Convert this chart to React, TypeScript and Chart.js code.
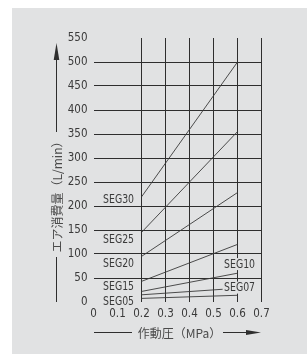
import React, { useEffect, useRef } from 'react';
import { Chart, registerables } from 'chart.js';

Chart.register(...registerables);

// ---- data ----
const seriesNames = ['SEG30', 'SEG25', 'SEG20', 'SEG15', 'SEG10', 'SEG07', 'SEG05'];
const startPressure = [0.2, 0.2, 0.2, 0.2, 0.2, 0.2, 0.2];
const endPressure = [0.6, 0.6, 0.6, 0.6, 0.6, 0.538, 0.6];
const startFlow = [219, 145, 95, 43, 22, 15, 7.5];
const endFlow = [500, 355, 228, 120, 60, 26.5, 14];
const xTicks = [0, 0.1, 0.2, 0.3, 0.4, 0.5, 0.6, 0.7];
const yTicks = [0, 50, 100, 150, 200, 250, 300, 350, 400, 450, 500, 550];
// series label anchors (data units)
const labelPressure = [0.169, 0.169, 0.169, 0.169, 0.544, 0.544, 0.169];
const labelFlow = [215, 131, 81, 33, 79, 30, 2];
const labelSide = ['left', 'left', 'left', 'left', 'right', 'right', 'left'];
const xTitle = '作動圧（MPa）';
const yTitle = 'エア消費量（L/min）';

// ---- styles ----
const PANEL = '#e1e2e3';
const GRID = '#2e2e2e';
const LINE = '#3a3a3a';
const TEXT = '#3a3a3a';
const NARROW = "'Liberation Sans Narrow', 'DejaVu Sans Condensed', sans-serif";
const CJK = "'Noto Sans CJK JP', sans-serif";

const bgPlugin = {
  id: 'panelBg',
  beforeDraw(chart: any) {
    const { ctx, width, height } = chart;
    ctx.save();
    ctx.fillStyle = '#ffffff';
    ctx.fillRect(0, 0, width, height);
    ctx.fillStyle = PANEL;
    ctx.fillRect(12, 8, width - 12, height - 8);
    ctx.restore();
  },
};

const SX = 0.8;
const labelPlugin = {
  id: 'segLabels',
  afterDatasetsDraw(chart: any) {
    const { ctx } = chart;
    const xs = chart.scales.x;
    const ys = chart.scales.y;
    ctx.save();
    ctx.font = `13px ${NARROW}`;
    ctx.textBaseline = 'middle';
    ctx.textAlign = 'left';
    seriesNames.forEach((name, i) => {
      const px = xs.getPixelForValue(labelPressure[i]);
      const py = ys.getPixelForValue(labelFlow[i]);
      const w = ctx.measureText(name).width * SX;
      const left = labelSide[i] === 'left' ? px - w : px;
      ctx.fillStyle = PANEL;
      ctx.fillRect(left - 1, py - 6, w + 2, 12);
      ctx.fillStyle = TEXT;
      ctx.save();
      ctx.translate(left, py + 0.5);
      ctx.scale(SX, 1);
      ctx.fillText(name, 0, 0);
      ctx.restore();
    });
    ctx.restore();
  },
};

const titlePlugin = {
  id: 'axisTitles',
  afterDraw(chart: any) {
    const { ctx } = chart;
    ctx.save();
    ctx.strokeStyle = GRID;
    ctx.fillStyle = GRID;
    ctx.lineWidth = 1;
    // y title
    const yx = 56.5;
    ctx.beginPath();
    ctx.moveTo(yx, 56);
    ctx.lineTo(yx, 132);
    ctx.moveTo(yx, 257);
    ctx.lineTo(yx, 302);
    ctx.stroke();
    ctx.beginPath();
    ctx.moveTo(yx, 43);
    ctx.lineTo(yx - 2.8, 60);
    ctx.lineTo(yx + 2.8, 60);
    ctx.closePath();
    ctx.fill();
    // x title
    const xy = 332.5;
    ctx.beginPath();
    ctx.moveTo(94, xy);
    ctx.lineTo(132, xy);
    ctx.moveTo(223, xy);
    ctx.lineTo(250, xy);
    ctx.stroke();
    ctx.beginPath();
    ctx.moveTo(261, xy);
    ctx.lineTo(246, xy - 2.5);
    ctx.lineTo(246, xy + 2.5);
    ctx.closePath();
    ctx.fill();

    ctx.fillStyle = '#4a4a4a';
    ctx.font = `12px ${CJK}`;
    ctx.textAlign = 'center';
    ctx.textBaseline = 'middle';
    ctx.fillText(xTitle, 179.5, 333);
    ctx.translate(57, 194);
    ctx.rotate(-Math.PI / 2);
    ctx.fillText(yTitle, 0, 0);
    ctx.restore();
  },
};

export default function App() {
  const ref = useRef<HTMLCanvasElement>(null);
  useEffect(() => {
    const datasets = seriesNames.map((name, i) => ({
      label: name,
      data: [
        { x: startPressure[i], y: startFlow[i] },
        { x: endPressure[i], y: endFlow[i] },
      ],
      borderColor: LINE,
      borderWidth: 0.9,
      pointRadius: 0,
      fill: false,
      tension: 0,
    }));
    const tickFont = { family: NARROW, size: 11.5 };
    const chart = new Chart(ref.current as HTMLCanvasElement, {
      type: 'line',
      data: { datasets },
      options: {
        animation: false,
        responsive: false,
        events: [],
        layout: { padding: { left: 63.5, top: 38, right: 45.5, bottom: 32 } },
        plugins: { legend: { display: false }, tooltip: { enabled: false } },
        scales: {
          x: {
            type: 'linear',
            min: 0,
            max: 0.7,
            afterBuildTicks: (s: any) => {
              s.ticks = xTicks.map((v) => ({ value: v }));
            },
            afterFit: (s: any) => {
              s.height = 20;
            },
            ticks: {
              autoSkip: false,
              maxRotation: 0,
              padding: 5,
              color: TEXT,
              font: tickFont,
              callback: (v: any) => (Number(v) === 0 ? '0' : Number(v).toFixed(1)),
            },
            grid: {
              drawTicks: false,
              lineWidth: 1,
              color: (c: any) => (c.tick && c.tick.value > 0.15 ? GRID : 'rgba(0,0,0,0)'),
            },
            border: { display: false },
          },
          y: {
            type: 'linear',
            min: 0,
            max: 550,
            afterBuildTicks: (s: any) => {
              s.ticks = yTicks.map((v) => ({ value: v }));
            },
            afterFit: (s: any) => {
              s.width = 30;
            },
            ticks: {
              autoSkip: false,
              padding: 6,
              color: TEXT,
              font: tickFont,
              callback: (v: any) => String(v),
            },
            grid: {
              drawTicks: false,
              lineWidth: 1,
              color: (c: any) =>
                c.tick && c.tick.value >= 50 && c.tick.value <= 500 ? GRID : 'rgba(0,0,0,0)',
            },
            border: { display: false },
          },
        },
      },
      plugins: [bgPlugin, labelPlugin, titlePlugin],
    } as any);
    return () => chart.destroy();
  }, []);
  return (
    <div style={{ position: 'absolute', left: 0, top: 0, width: 307, height: 354 }}>
      <canvas ref={ref} width={307} height={354} style={{ display: 'block', width: 307, height: 354 }} />
    </div>
  );
}
